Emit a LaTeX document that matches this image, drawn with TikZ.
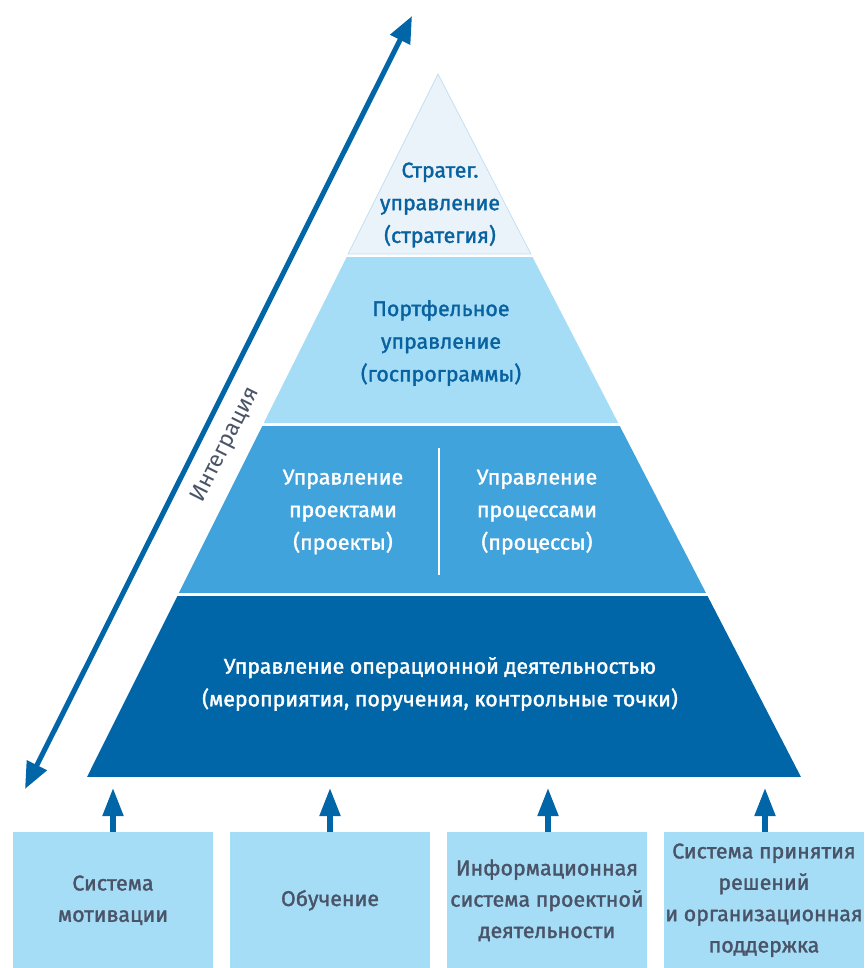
\documentclass[tikz,border=0pt]{standalone}
\usepackage{fontspec}
\setmainfont{Fira Sans}
\newfontfamily\medfont{Fira Sans}[FakeBold=1.6]
\usetikzlibrary{arrows.meta}
\definecolor{dkblue}{RGB}{0,102,168}
\definecolor{mdblue}{RGB}{65,163,219}
\definecolor{ltblue}{RGB}{166,221,246}
\definecolor{pale}{RGB}{234,243,250}
\definecolor{paleedge}{RGB}{190,220,240}
\definecolor{txgray}{RGB}{74,84,104}
\definecolor{txblue}{RGB}{8,98,160}
\tikzset{
  lay/.style={align=center, inner sep=0pt, font=\medfont\fontsize{16}{24.5}\selectfont},
  laydark/.style={lay, text=txblue},
  laywhite/.style={lay, text=white},
  basebox/.style={fill=ltblue, draw=none, minimum width=150pt, minimum height=102pt,
    anchor=north, inner sep=0pt, align=center, text=txgray,
    font=\medfont\fontsize{16}{23.5}\selectfont},
  uparrow/.style={-{Triangle[length=21pt,width=15pt]}, line width=3.8pt, draw=dkblue},
  bigarrow/.style={{Triangle[length=20pt,width=16pt]}-{Triangle[length=20pt,width=16pt]}, line width=3.8pt, draw=dkblue}
}
\begin{document}
\begin{tikzpicture}[x=0.75pt,y=-0.75pt]
\useasboundingbox (0,0) rectangle (866,968);
% pyramid layers
\begin{scope}
  \clip (438,74) -- (801,777) -- (87,777) -- cycle;
  \fill[pale]   (0,74)  rectangle (866,254);
  \fill[ltblue] (0,257) rectangle (866,423);
  \fill[mdblue] (0,426) rectangle (866,593);
  \fill[dkblue] (0,596) rectangle (866,777);
\end{scope}
\draw[paleedge, line width=0.5pt] (348.1,254) -- (438,74) -- (530.9,254) -- cycle;
\draw[white, line width=2.2pt] (439,448) -- (439,575);
% layer texts
\node[laydark] (t1) at (440,205) {Стратег.\\управление\\(стратегия)};
\node[laydark] (t2) at (441,343) {Портфельное\\управление\\(госпрограммы)};
\node[laywhite] (t3a) at (343,512) {Управление\\проектами\\(проекты)};
\node[laywhite] (t3b) at (537,512) {Управление\\процессами\\(процессы)};
\node[laywhite] (t4) at (440,684) {Управление операционной деятельностью\\(мероприятия, поручения, контрольные точки)};
% integration arrow
\coordinate (ia) at (25,789);
\coordinate (ib) at (412,16);
\draw[bigarrow] (ia) -- (ib);
\node[rotate=63.4, text=txgray, font=\fontsize{17}{18}\selectfont] (integ) at (226,445) {Интеграция};
% bottom boxes
\node[basebox] (b1) at (113,832) {Система\\мотивации};
\node[basebox] (b2) at (330,832) {Обучение};
\node[basebox] (b3) at (547,832) {Информационная\\система проектной\\деятельности};
\node[basebox] (b4) at (764,832) {Система принятия\\решений\\и организационная\\поддержка};
\coordinate (p1) at (113,788);
\coordinate (p2) at (330,788);
\coordinate (p3) at (548,788);
\coordinate (p4) at (765,788);
\draw[uparrow] (b1.north) -- (p1);
\draw[uparrow] (b2.north) -- (p2);
\draw[uparrow] (b3.north -| p3) -- (p3);
\draw[uparrow] (b4.north -| p4) -- (p4);
\end{tikzpicture}
\end{document}
